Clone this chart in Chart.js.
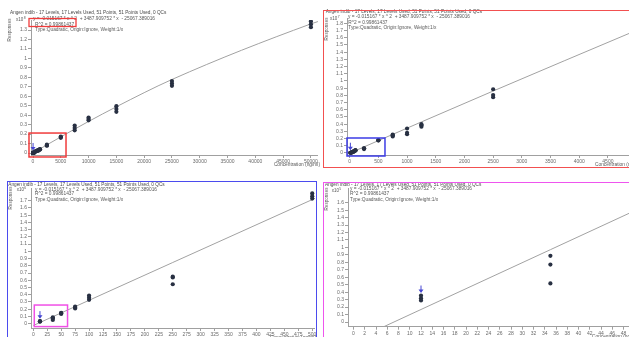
<!DOCTYPE html>
<html>
<head>
<meta charset="utf-8">
<script src="https://cdn.jsdelivr.net/npm/chart.js@4.4.1/dist/chart.umd.min.js"></script>
<style>
  html, body { margin: 0; padding: 0; background: #fff; }
  body { width: 629px; height: 337px; overflow: hidden; position: relative; }
  #sheet { position: absolute; left: 0; top: 0; width: 629px; height: 337px; overflow: hidden; filter: blur(0.35px); }
  canvas { position: absolute; }
  .frame { position: absolute; box-sizing: border-box; border: 1.5px solid; }
</style>
</head>
<body>
<div id="sheet">
  <canvas id="c1"></canvas>
  <canvas id="c2"></canvas>
  <canvas id="c3"></canvas>
  <canvas id="c4"></canvas>
  <div class="frame" style="left:323px;top:10px;width:340px;height:158px;border-color:#f25050;"></div>
  <div class="frame" style="left:7px;top:181px;width:310px;height:200px;border-color:#4b4bee;"></div>
  <div class="frame" style="left:323px;top:182px;width:340px;height:200px;border-color:#ee55ee;"></div>
</div>
<script>
// Calibration data: 17 levels (ng/ml), three replicate responses per level
const compound = 'Angen indib';
const summary = '17 Levels, 17 Levels Used, 51 Points, 51 Points Used, 0 QCs';
const fitCoeffs = [-0.015167, 3487.909752, -25067.389016]; // y = a*x^2 + b*x + c
const rSquared = '0.99861437';
const fitType = 'Type:Quadratic, Origin:Ignore, Weight:1/x';

const levels = [12, 35, 50, 75, 100, 250, 500, 750, 1000, 1250, 2500, 5000, 7500, 10000, 15000, 25000, 50000];
const rep1 = [29000, 51700, 135000, 210000, 330000, 545000, 1730000, 2300000, 2600000, 3650000, 7750000, 16000000, 24000000, 34500000, 43500000, 71000000, 133000000];
const rep2 = [32000, 77000, 145000, 225000, 360000, 640000, 1760000, 2450000, 2800000, 3850000, 8050000, 16800000, 26500000, 36000000, 46500000, 73500000, 136000000];
const rep3 = [35500, 88800, 150000, 235000, 390000, 650000, 1800000, 2550000, 3400000, 4000000, 8850000, 17400000, 29000000, 37500000, 49500000, 76000000, 139000000];

// Axis tick labels for each view
const xTicks1 = [0, 5000, 10000, 15000, 20000, 25000, 30000, 35000, 40000, 45000, 50000];
const xTicks2 = [0, 500, 1000, 1500, 2000, 2500, 3000, 3500, 4000, 4500, 5000];
const xTicks3 = [0, 25, 50, 75, 100, 125, 150, 175, 200, 225, 250, 275, 300, 325, 350, 375, 400, 425, 450, 475, 500];
const xTicks4 = [0, 2, 4, 6, 8, 10, 12, 14, 16, 18, 20, 22, 24, 26, 28, 30, 32, 34, 36, 38, 40, 42, 44, 46, 48, 50];
const yTicks1 = [0, 0.1, 0.2, 0.3, 0.4, 0.5, 0.6, 0.7, 0.8, 0.9, 1, 1.1, 1.2, 1.3];
const yTicks2 = [0, 0.1, 0.2, 0.3, 0.4, 0.5, 0.6, 0.7, 0.8, 0.9, 1, 1.1, 1.2, 1.3, 1.4, 1.5, 1.6, 1.7, 1.8];
const yTicks3 = [0, 0.1, 0.2, 0.3, 0.4, 0.5, 0.6, 0.7, 0.8, 0.9, 1, 1.1, 1.2, 1.3, 1.4, 1.5, 1.6, 1.7];
const yTicks4 = [0, 0.1, 0.2, 0.3, 0.4, 0.5, 0.6, 0.7, 0.8, 0.9, 1, 1.1, 1.2, 1.3, 1.4, 1.5, 1.6];

// Four views of the same curve, each zoomed further into the low end
const panels = [
  { id: 'c1', left: 0, top: 0, w: 320, h: 170, area: [31, 20, 318, 155],
    x: [-360, 51259], xt: xTicks1, y: [-0.0211, 1.4057], yt: yTicks1, exp: 8,
    txt: { title: [10, 13], exp: [16, 19.5], eq: [33, 19], r2: [35, 24.5], type: [35, 30], resp: [10, 30], conc: [320, 164.5, 'right'] },
    box: { x: [-720, 5940], y: [-0.042, 0.211], color: '#f03c3c' },
    r2box: [29, 18.5, 47, 8, '#f03c3c'] },
  { id: 'c2', left: 317, top: 0, w: 330, h: 170, area: [30, 18, 328, 155],
    x: [-47, 5145], xt: xTicks2, y: [-0.028, 1.874], yt: yTicks2, exp: 7,
    txt: { title: [8.7, 11.7], exp: [13, 19], eq: [31, 16.7], r2: [31.3, 22.7], type: [31.3, 28], resp: [10, 29], conc: [278, 165, 'left'] },
    box: { x: [-47, 615], y: [-0.042, 0.208], color: '#3c3ce6' } },
  { id: 'c3', left: 0, top: 170, w: 317, h: 180, area: [31, 18, 316, 158],
    x: [-4.1, 504.8], xt: xTicks3, y: [-0.0594, 1.8755], yt: yTicks3, exp: 6,
    txt: { title: [8.3, 15], exp: [16.7, 20], eq: [35, 19.3], r2: [35, 23.3], type: [35, 29.3], resp: [11, 28], conc: [316, 167.5, 'right'] },
    box: { x: [1.8, 61.4], y: [-0.04, 0.258], color: '#f050e6' } },
  { id: 'c4', left: 317, top: 170, w: 330, h: 180, area: [31, 18, 328, 156.7],
    x: [-0.98, 51.8], xt: xTicks4, y: [-0.063, 1.797], yt: yTicks4, exp: 5,
    txt: { title: [8, 15], exp: [14.7, 20.7], eq: [33, 18.7], r2: [33, 23.3], type: [33, 29.3], resp: [10, 29], conc: [275, 166.5, 'left'] } }
];

const FONT = '"Liberation Sans", Arial, sans-serif';
const TEXT_COLOR = '#585858';
const AXIS_COLOR = '#a0a0a0';

function fmtCoeff(v) { return String(Math.abs(v)); }
const titleText = compound + ' - ' + summary;
const eqText = 'y = ' + fitCoeffs[0] + ' * x ^ 2  + ' + fitCoeffs[1] + ' * x  - ' + fmtCoeff(fitCoeffs[2]);
const r2Text = 'R^2 = ' + rSquared;

function put(ctx, txt, x, y, size, color, align) {
  ctx.font = size + 'px ' + FONT;
  ctx.fillStyle = color;
  ctx.textAlign = align || 'left';
  ctx.textBaseline = 'middle';
  ctx.fillText(txt, x, y);
}

const panelById = {};
panels.forEach(p => { panelById[p.id] = p; });

const overlay = {
  id: 'overlay',
  afterDraw(chart) {
    const p = panelById[chart.canvas.id];
    const ctx = chart.ctx;
    const xs = chart.scales.x, ys = chart.scales.y;
    const scale = Math.pow(10, p.exp);
    ctx.save();

    // highlight box around the range shown in the next view
    if (p.box) {
      const x0 = xs.getPixelForValue(p.box.x[0]), x1 = xs.getPixelForValue(p.box.x[1]);
      const y0 = ys.getPixelForValue(p.box.y[1]), y1 = ys.getPixelForValue(p.box.y[0]);
      ctx.strokeStyle = p.box.color; ctx.lineWidth = 1.5;
      ctx.strokeRect(x0, y0, x1 - x0, y1 - y0);
    }

    // marker above the lowest calibration level
    const lx = xs.getPixelForValue(levels[0]);
    const ly = ys.getPixelForValue(Math.max(rep1[0], rep2[0], rep3[0]) / scale);
    if (lx >= chart.chartArea.left - 2 && lx <= chart.chartArea.right) {
      ctx.strokeStyle = '#4646d2'; ctx.fillStyle = '#4646d2'; ctx.lineWidth = 1;
      ctx.beginPath(); ctx.moveTo(lx, ly - 10); ctx.lineTo(lx, ly - 4); ctx.stroke();
      ctx.beginPath(); ctx.moveTo(lx - 2.5, ly - 6); ctx.lineTo(lx + 2.5, ly - 6); ctx.lineTo(lx, ly - 2.5); ctx.closePath(); ctx.fill();
    }

    // header text
    const t = p.txt;
    put(ctx, titleText, t.title[0], t.title[1], 4.7, '#484848');
    put(ctx, 'x10', t.exp[0], t.exp[1], 4.5, TEXT_COLOR);
    ctx.font = '4.5px ' + FONT;
    const w10 = ctx.measureText('x10').width;
    put(ctx, String(p.exp), t.exp[0] + w10 + 0.4, t.exp[1] - 1.5, 3.4, TEXT_COLOR);
    put(ctx, eqText, t.eq[0], t.eq[1], 4.8, TEXT_COLOR);
    put(ctx, r2Text, t.r2[0], t.r2[1], 4.8, TEXT_COLOR);
    put(ctx, fitType, t.type[0], t.type[1], 4.8, TEXT_COLOR);
    put(ctx, 'Concentration (ng/ml)', t.conc[0], t.conc[1], 4.8, TEXT_COLOR, t.conc[2]);

    ctx.save();
    ctx.translate(t.resp[0], t.resp[1]);
    ctx.rotate(-Math.PI / 2);
    put(ctx, 'Responses', 0, 0, 4.6, TEXT_COLOR, 'center');
    ctx.restore();

    if (p.r2box) {
      ctx.strokeStyle = p.r2box[4]; ctx.lineWidth = 1.3;
      ctx.strokeRect(p.r2box[0], p.r2box[1], p.r2box[2], p.r2box[3]);
    }
    ctx.restore();
  }
};

function zeroPad(s) { s.paddingLeft = 0; s.paddingRight = 0; s.paddingTop = 0; s.paddingBottom = 0; }
function tickLabel(v) { return String(Math.round(v * 1000) / 1000); }

panels.forEach(p => {
  const cv = document.getElementById(p.id);
  cv.width = p.w; cv.height = p.h;
  cv.style.left = p.left + 'px'; cv.style.top = p.top + 'px';
  const scale = Math.pow(10, p.exp);

  const points = [];
  levels.forEach((lv, i) => {
    [rep1, rep2, rep3].forEach(r => points.push({ x: lv, y: r[i] / scale }));
  });

  const cx = [0].concat(levels.filter(l => l < p.x[1]), [p.x[1]]);
  const curve = cx.map(x => ({ x: x, y: (fitCoeffs[0] * x * x + fitCoeffs[1] * x + fitCoeffs[2]) / scale }));

  const axisCommon = {
    type: 'linear',
    grid: { display: true, drawOnChartArea: false, drawTicks: true, tickLength: 3, color: AXIS_COLOR, lineWidth: 1 },
    border: { display: true, color: AXIS_COLOR, width: 1 },
  };

  new Chart(cv, {
    type: 'scatter',
    data: {
      datasets: [
        { type: 'line', data: curve, borderColor: '#a2a2a2', borderWidth: 1, pointRadius: 0,
          cubicInterpolationMode: 'monotone', fill: false, order: 2 },
        { data: points, pointRadius: 2.1, backgroundColor: '#283042', borderWidth: 0, pointHoverRadius: 0, order: 1 }
      ]
    },
    options: {
      responsive: false,
      animation: false,
      events: [],
      layout: { padding: { left: 0, top: p.area[1], right: p.w - p.area[2], bottom: 0 } },
      plugins: { legend: { display: false }, tooltip: { enabled: false } },
      scales: {
        x: Object.assign({}, axisCommon, {
          position: 'bottom', min: p.x[0], max: p.x[1],
          afterBuildTicks: s => { s.ticks = p.xt.map(v => ({ value: v })); },
          afterFit: s => { s.height = p.h - p.area[3]; zeroPad(s); },
          ticks: { autoSkip: false, maxRotation: 0, minRotation: 0, padding: 1, color: '#6a6a6a',
                   font: { size: 5, family: FONT }, callback: tickLabel }
        }),
        y: Object.assign({}, axisCommon, {
          position: 'left', min: p.y[0], max: p.y[1],
          afterBuildTicks: s => { s.ticks = p.yt.map(v => ({ value: v })); },
          afterFit: s => { s.width = p.area[0]; zeroPad(s); },
          ticks: { autoSkip: false, padding: 1, color: '#6a6a6a',
                   font: { size: 5, family: FONT }, callback: tickLabel }
        })
      }
    },
    plugins: [overlay]
  });
});
</script>
</body>
</html>
